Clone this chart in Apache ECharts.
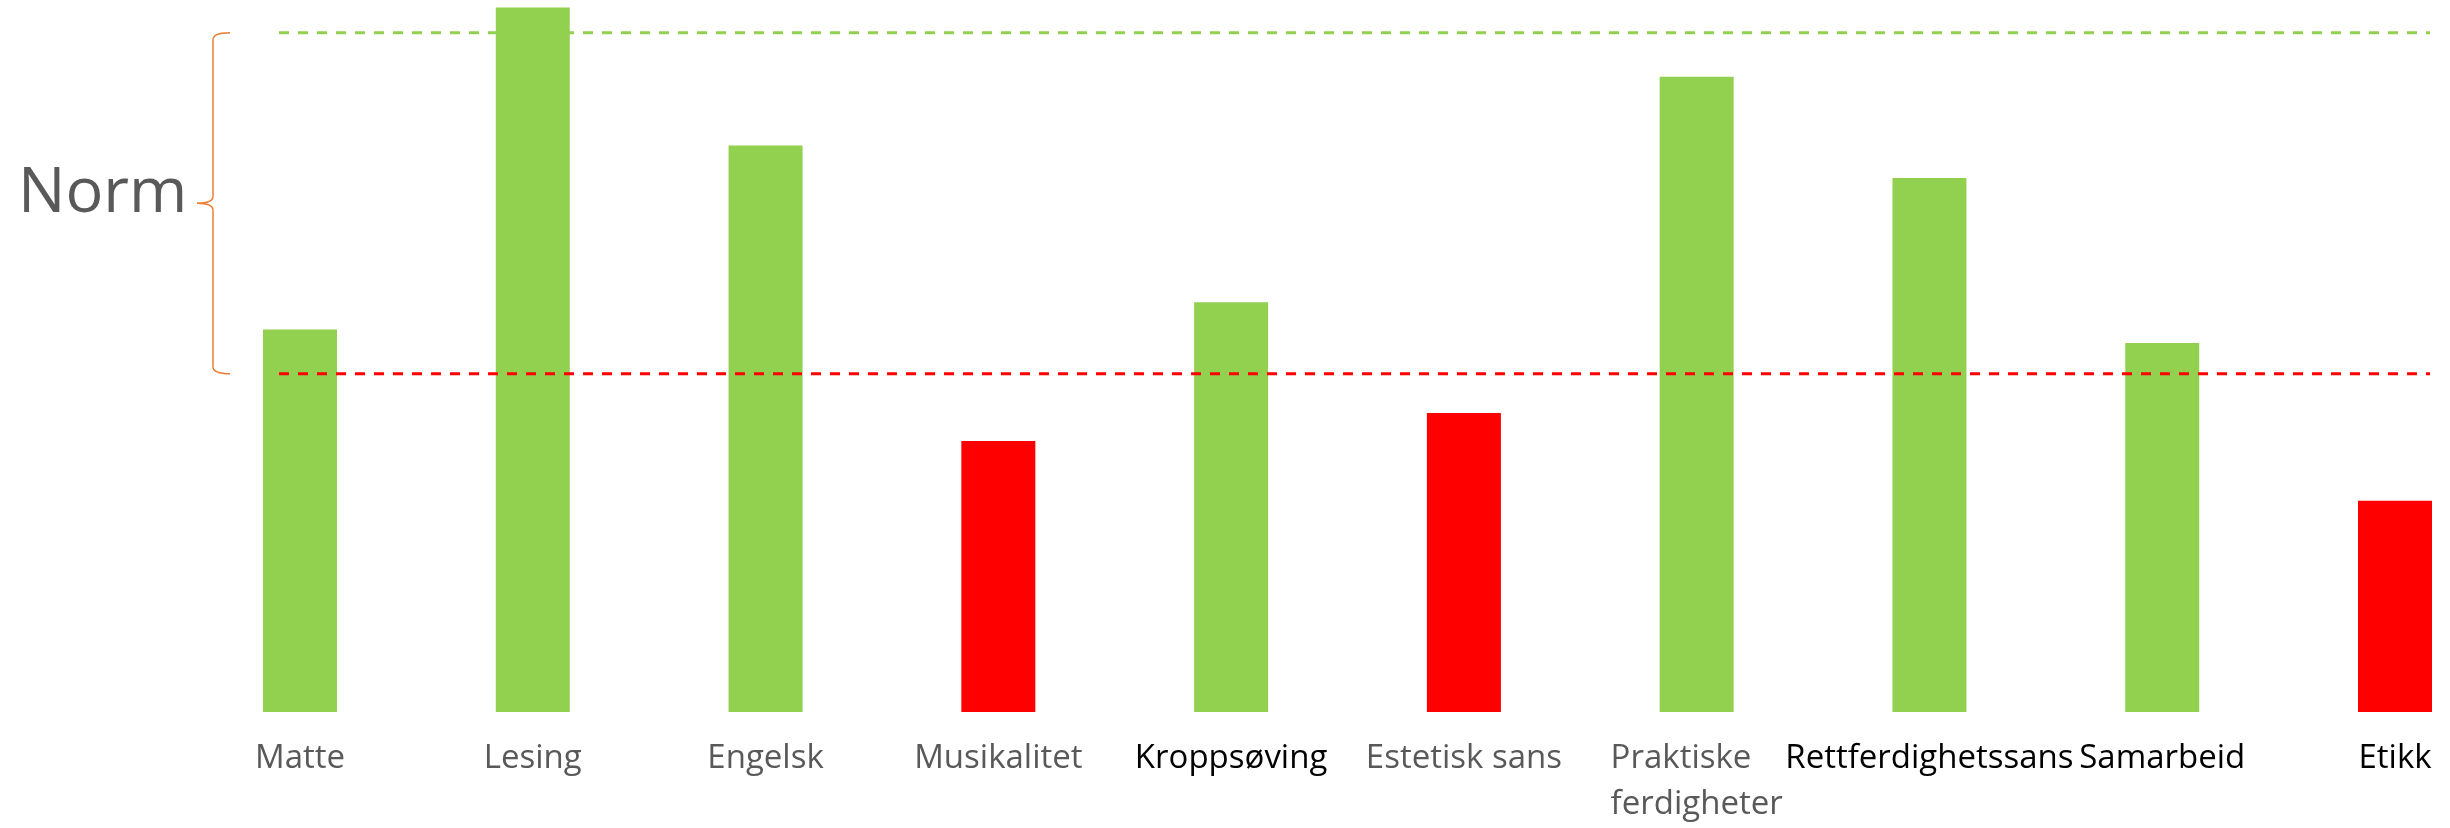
<!DOCTYPE html>
<html>
<head>
<meta charset="utf-8">
<script src="https://cdn.jsdelivr.net/npm/echarts@6/dist/echarts.min.js"></script>
<style>
html,body{margin:0;padding:0;background:#fff;}
#c{width:2450px;height:828px;}
</style>
</head>
<body>
<div id="c"></div>
<script>
// ---- data ----
var categories = ['Matte', 'Lesing', 'Engelsk', 'Musikalitet', 'Kroppsøving', 'Estetisk sans', 'Praktiske\nferdigheter', 'Rettferdighetssans', 'Samarbeid', 'Etikk'];
var values = [56.3, 103.7, 83.4, 39.9, 60.3, 44.0, 93.5, 78.6, 54.3, 31.1];
var normLow = 50;
var normHigh = 100;
var normLabel = 'Norm';

// ---- styles (not data) ----
var GREEN = '#92D050', RED = '#FF0000', ORANGE = '#ED7D31';
var labelColors = ['#595959', '#595959', '#595959', '#595959', '#000000', '#595959', '#595959', '#000000', '#000000', '#000000'];
var FONT = '"Open Sans"';
var Y_MAX = 104.8;

var chart = echarts.init(document.getElementById('c'), null, {renderer: 'canvas'});

var labelRich = {};
labelColors.forEach(function (c, i) {
  labelRich['l' + i] = {color: c, fontSize: 33, lineHeight: 46, fontFamily: FONT, align: 'left'};
});

var option = {
  animation: false,
  backgroundColor: '#ffffff',
  grid: [
    {left: 300, right: 55, top: 0, bottom: 113, containLabel: false},
    {left: 279, right: 20, top: 0, bottom: 113, containLabel: false}
  ],
  xAxis: [
    {
      type: 'category', gridIndex: 0, data: categories, boundaryGap: false,
      axisLine: {show: false}, axisTick: {show: false}, splitLine: {show: false},
      axisLabel: {
        interval: 0, margin: 24, fontSize: 33, lineHeight: 46, fontFamily: FONT,
        color: function (val, idx) { return labelColors[idx]; },
        formatter: function (val, idx) {
          return val.split('\n').map(function (line) {
            return '{l' + idx + '|' + line + '}';
          }).join('\n');
        },
        rich: labelRich
      }
    },
    {type: 'value', gridIndex: 1, min: 0, max: 1, show: false}
  ],
  yAxis: [
    {type: 'value', gridIndex: 0, min: 0, max: Y_MAX, show: false},
    {type: 'value', gridIndex: 1, min: 0, max: Y_MAX, show: false}
  ],
  series: [
    {
      type: 'bar', xAxisIndex: 0, yAxisIndex: 0, barWidth: 74, clip: false,
      data: values.map(function (v) {
        return {value: v, itemStyle: {color: v < normLow ? RED : GREEN}};
      })
    },
    {
      type: 'line', xAxisIndex: 1, yAxisIndex: 1, symbol: 'none', silent: true,
      lineStyle: {color: GREEN, width: 3, type: [10, 9]},
      data: [[0, normHigh], [1, normHigh]]
    },
    {
      type: 'line', xAxisIndex: 1, yAxisIndex: 1, symbol: 'none', silent: true,
      lineStyle: {color: RED, width: 3, type: [10, 9]},
      data: [[0, normLow], [1, normLow]]
    }
  ]
};
chart.setOption(option);

// brace annotation spanning the norm band, positioned from the axis scale
var yTop = chart.convertToPixel({yAxisIndex: 1}, normHigh);
var yBot = chart.convertToPixel({yAxisIndex: 1}, normLow);
var yMid = (yTop + yBot) / 2;
var bx = 213, bEnd = 230, bTip = 197, r = 7;
var braceStyle = {stroke: ORANGE, lineWidth: 1.5, fill: null};
function curve(x1, y1, cx, cy, x2, y2) {
  return {type: 'bezierCurve', shape: {x1: x1, y1: y1, x2: x2, y2: y2, cpx1: cx, cpy1: cy}, style: braceStyle};
}
function seg(x1, y1, x2, y2) {
  return {type: 'line', shape: {x1: x1, y1: y1, x2: x2, y2: y2}, style: braceStyle};
}

chart.setOption({
  graphic: [
    curve(bEnd, yTop, bx, yTop, bx, yTop + r),
    seg(bx, yTop + r, bx, yMid - r),
    curve(bx, yMid - r, bx, yMid, bTip, yMid),
    curve(bTip, yMid, bx, yMid, bx, yMid + r),
    seg(bx, yMid + r, bx, yBot - r),
    curve(bx, yBot - r, bx, yBot, bEnd, yBot),
    {type: 'text', x: 18, y: yMid - 9, style: {text: normLabel, fontSize: 63, fontFamily: FONT, fill: '#595959', verticalAlign: 'middle', align: 'left'}}
  ]
});
</script>
</body>
</html>
